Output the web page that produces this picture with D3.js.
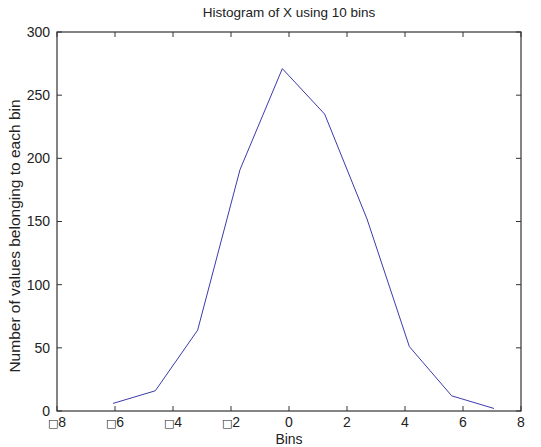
<!DOCTYPE html>
<html>
<head>
<meta charset="utf-8">
<script src="https://d3js.org/d3.v7.min.js"></script>
<style>
  body { margin: 0; background: #fff; }
  text { font-family: "Liberation Sans", Arial, sans-serif; fill: #222; }
</style>
</head>
<body>
<script>
// bin centres and counts
var binCenters = [-6.07, -4.61, -3.15, -1.69, -0.23, 1.23, 2.69, 4.15, 5.61, 7.07];
var binCounts = [6, 16, 64, 191, 271, 235, 152, 51, 12, 2];
var xTicks = [-8, -6, -4, -2, 0, 2, 4, 6, 8];
var yTicks = [0, 50, 100, 150, 200, 250, 300];

var w = 541, h = 447;
var m = {left: 57, right: 20, top: 32, bottom: 36};

var svg = d3.select("body").append("svg")
  .attr("width", w)
  .attr("height", h);

var x = d3.scaleLinear().domain([-8, 8]).range([m.left, w - m.right]);
var y = d3.scaleLinear().domain([0, 300]).range([h - m.bottom, m.top]);

var axisColor = "#333";

// box
svg.append("rect")
  .attr("x", x(-8)).attr("y", y(300))
  .attr("width", x(8) - x(-8)).attr("height", y(0) - y(300))
  .attr("fill", "none").attr("stroke", axisColor).attr("stroke-width", 1.2);

// ticks pointing inward, on all four sides
var tl = 5;
var g = svg.append("g").attr("stroke", axisColor).attr("stroke-width", 1);
xTicks.forEach(function(t) {
  g.append("line").attr("x1", x(t)).attr("x2", x(t)).attr("y1", y(0)).attr("y2", y(0) - tl);
  g.append("line").attr("x1", x(t)).attr("x2", x(t)).attr("y1", y(300)).attr("y2", y(300) + tl);
});
yTicks.forEach(function(t) {
  g.append("line").attr("x1", x(-8)).attr("x2", x(-8) + tl).attr("y1", y(t)).attr("y2", y(t));
  g.append("line").attr("x1", x(8)).attr("x2", x(8) - tl).attr("y1", y(t)).attr("y2", y(t));
});

// x tick labels (the minus sign shows as a box glyph in the original)
xTicks.forEach(function(t) {
  var txt = svg.append("text")
    .attr("x", x(t)).attr("y", 427)
    .attr("text-anchor", "middle")
    .attr("font-size", 14);
  if (t < 0) {
    txt.append("tspan").attr("font-family", "DejaVu Sans").attr("font-size", 11)
      .attr("font-weight", "bold").text("\u25A1");
  }
  txt.append("tspan").text(Math.abs(t));
});

// y tick labels
yTicks.forEach(function(t) {
  svg.append("text")
    .attr("x", x(-8) - 7).attr("y", y(t))
    .attr("dy", "0.35em")
    .attr("text-anchor", "end")
    .attr("font-size", 14)
    .text(t);
});

// line
var line = d3.line()
  .x(function(d, i) { return x(binCenters[i]); })
  .y(function(d) { return y(d); });

svg.append("path")
  .datum(binCounts)
  .attr("d", line)
  .attr("fill", "none")
  .attr("stroke", "#3b3baa")
  .attr("stroke-width", 1);

// labels
svg.append("text")
  .attr("x", (x(-8) + x(8)) / 2).attr("y", 17)
  .attr("text-anchor", "middle").attr("font-size", 13.5)
  .text("Histogram of X using 10 bins");

svg.append("text")
  .attr("x", (x(-8) + x(8)) / 2).attr("y", 444)
  .attr("text-anchor", "middle").attr("font-size", 14)
  .text("Bins");

svg.append("text")
  .attr("transform", "translate(20,236) rotate(-90)")
  .attr("text-anchor", "middle").attr("font-size", 15.5)
  .text("Number of values belonging to each bin");
</script>
</body>
</html>
